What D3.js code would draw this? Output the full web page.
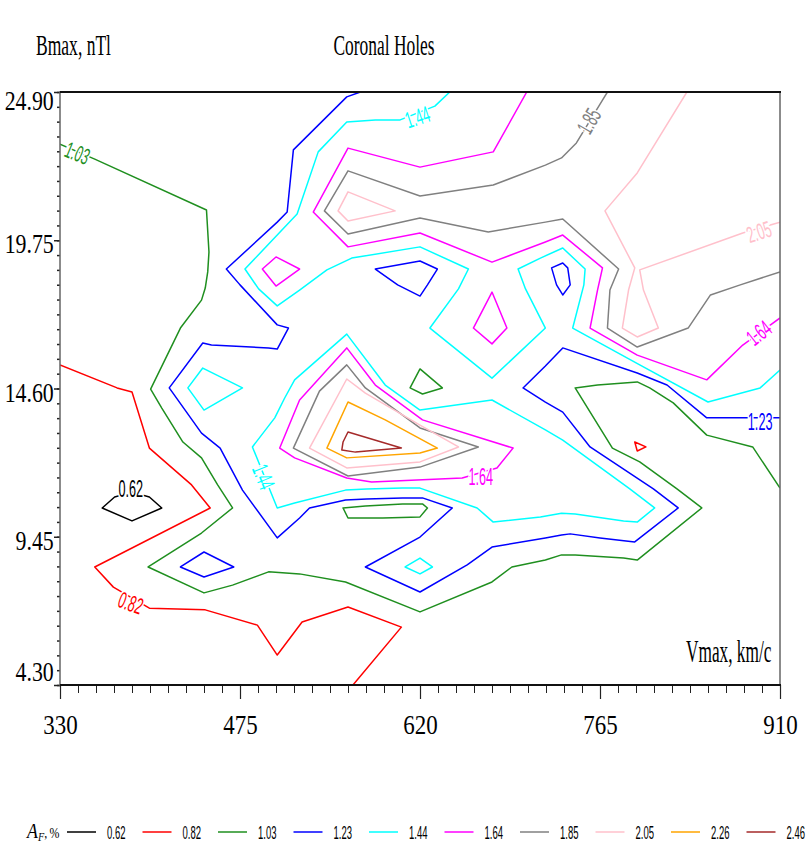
<!DOCTYPE html>
<html lang="en">
<head>
<meta charset="utf-8">
<title>Coronal Holes</title>
<script src="https://d3js.org/d3.v7.min.js"></script>
<style>
  body { margin: 0; background: #fff; }
  svg text { font-family: "Liberation Serif", "Times New Roman", serif; fill: #000; }
  .sans { font-family: "Liberation Sans", Arial, sans-serif !important; }
</style>
</head>
<body>
<svg id="chart"></svg>
<script>
// contour levels A_F, % and their colours
const levels = [0.62, 0.82, 1.03, 1.23, 1.44, 1.64, 1.85, 2.05, 2.26, 2.46];
const levelColors = ["#000000", "#ff0000", "#1f8f1f", "#0000ff", "#00ffff",
                     "#ff00ff", "#808080", "#ffc0cb", "#ffa500", "#a52a2a"];
const xTicks = [330, 475, 620, 765, 910];
const yTicks = [4.30, 9.45, 14.60, 19.75, 24.90];

// contour lines, points are [Vmax km/s, Bmax nT]
const c062 = [[364,10.45],[388,10.00],[412,10.45],[402,10.83],[388,11.00],[374,10.83]];
const c082a = [[330,15.42],[376,14.62],[388,14.48],[402,12.53],[436,11.25],[451,10.45],[388,9.06],[358,8.40],
  [373,7.70],[402,6.97],[447,6.91],[489,6.38],[505,5.34],[525,6.49],[562,7.01],[605,6.31],[566,4.30]];
const c082b = [[793,12.74],[802,12.57],[795,12.43]];
const c103a = [[330,23.09],[358,22.57],[448,20.80],[450,19.34],[449,18.65],[447,18.09],[444,17.67],[427,16.70],
  [403,14.58],[412,13.92],[429,12.74],[444,12.19],[457,11.25],[469,10.45],[444,9.58],[401,8.40],[446,7.50],
  [469,7.77],[498,8.23],[523,8.16],[560,7.88],[620,6.84],[678,7.88],[694,8.40],[721,8.64],[734,8.82],
  [745,8.82],[784,8.71],[795,8.64],[847,10.45],[827,11.11],[797,12.05],[775,12.53],[745,14.62],[763,14.72],
  [795,14.83],[805,14.62],[824,14.10],[851,12.98],[888,12.57],[910,11.14]];
const c103b = [[620,15.28],[638,14.62],[622,14.41],[612,14.62]];
const c103c = [[558,10.45],[576,10.52],[606,10.59],[622,10.59],[626,10.45],[620,10.14],[590,10.10],[562,10.10]];
const c123a = [[572,24.90],[561,24.73],[518,22.89],[513,20.73],[505,20.38],[464,18.75],[475,18.20],[505,16.81],
  [514,16.70],[505,15.97],[498,16.01],[452,16.11],[445,16.18],[418,14.62],[444,13.05],[459,12.53],[477,11.07],
  [505,9.41],[523,10.10],[531,10.45],[560,10.73],[577,10.76],[606,10.80],[622,10.80],[646,10.45],[620,9.44],
  [576,8.40],[620,7.53],[658,8.47],[678,9.09],[721,9.41],[734,9.51],[741,9.55],[765,9.41],[793,9.27],
  [828,10.45],[808,11.11],[757,12.57],[735,13.78],[721,14.13],[703,14.62],[721,15.38],[735,16.01],
  [795,15.14],[819,14.72],[851,13.58],[880,13.58],[910,13.58]];
const c123b = [[584,18.75],[620,19.03],[634,18.75],[626,18.20],[620,17.81],[602,18.20]];
const c123c = [[726,18.79],[735,18.96],[739,18.79],[741,18.20],[735,17.85],[730,18.20]];
const c123d = [[427,8.40],[446,8.92],[470,8.40],[446,8.05]];
const c144a = [[644,24.90],[632,24.41],[604,23.93],[584,23.93],[561,23.86],[538,22.82],[521,20.66],[479,18.75],
  [490,18.06],[505,17.47],[523,18.02],[545,18.72],[565,19.13],[620,19.52],[659,18.75],[651,18.06],[628,16.70],
  [678,14.96],[721,16.70],[705,18.06],[699,18.75],[717,19.13],[735,19.48],[753,18.75],[752,18.20],[743,16.70],
  [797,15.42],[852,14.13],[894,14.62],[910,15.24]];
const c144b = [[445,15.31],[477,14.62],[446,13.85],[433,14.62]];
const c144c = [[519,14.90],[561,16.49],[592,14.72],[620,13.85],[678,14.20],[721,13.16],[735,12.81],[789,11.11],
  [809,10.45],[795,9.96],[784,10.00],[745,10.24],[734,10.27],[717,10.14],[679,9.96],[666,10.45],[620,11.14],
  [606,11.14],[577,11.11],[560,11.07],[519,10.62],[505,10.45],[485,12.57],[503,13.58],[511,14.27]];
const c144d = [[608,8.40],[620,8.71],[630,8.40],[620,8.16]];
const c164a = [[706,24.90],[679,22.82],[620,22.29],[562,22.95],[534,20.73],[562,19.52],[620,20.00],[678,18.99],
  [721,19.69],[735,19.93],[767,18.79],[763,18.02],[757,16.70],[795,15.76],[851,14.90],[880,16.11],[910,17.05]];
const c164b = [[504,19.17],[523,18.75],[504,18.16],[493,18.75]];
const c164c = [[678,17.95],[690,16.70],[678,16.15],[663,16.70]];
const c164d = [[561,16.01],[584,14.72],[622,13.51],[695,12.53],[682,11.84],[654,11.49],[581,11.35],[561,11.49],
  [519,12.19],[507,12.53],[523,14.20]];
const c185a = [[771,24.90],[767,24.62],[746,23.13],[734,22.61],[721,22.36],[679,21.67],[620,21.29],[562,22.16],
  [543,20.77],[562,19.97],[620,20.52],[675,20.04],[721,20.38],[735,20.49],[780,18.75],[773,18.02],[771,16.70],
  [795,16.04],[836,16.70],[854,17.85],[878,18.20],[910,18.65]];
const c185b = [[561,15.42],[576,14.62],[620,13.23],[667,12.57],[620,11.87],[562,11.56],[518,12.53],[539,14.51]];
const c205a = [[562,21.43],[600,20.77],[562,20.42],[554,20.77]];
const c205b = [[835,24.90],[795,22.09],[769,20.77],[793,18.79],[788,18.02],[783,16.70],[795,16.39],[812,16.70],
  [800,18.02],[797,18.72],[880,20.00],[910,20.38]];
const c205c = [[561,14.93],[576,14.44],[620,13.33],[651,12.57],[620,12.05],[561,11.84],[531,12.53]];
const c226 = [[562,14.13],[592,13.51],[634,12.53],[620,12.36],[561,12.19],[545,12.53]];
const c246 = [[562,13.09],[605,12.53],[568,12.39],[557,12.46],[558,12.74]];

const contours = [
  {level: 0.62, pts: c062, closed: true},
  {level: 0.82, pts: c082a, closed: false},
  {level: 0.82, pts: c082b, closed: true},
  {level: 1.03, pts: c103a, closed: false},
  {level: 1.03, pts: c103b, closed: true},
  {level: 1.03, pts: c103c, closed: true},
  {level: 1.23, pts: c123a, closed: false},
  {level: 1.23, pts: c123b, closed: true},
  {level: 1.23, pts: c123c, closed: true},
  {level: 1.23, pts: c123d, closed: true},
  {level: 1.44, pts: c144a, closed: false},
  {level: 1.44, pts: c144b, closed: true},
  {level: 1.44, pts: c144c, closed: true},
  {level: 1.44, pts: c144d, closed: true},
  {level: 1.64, pts: c164a, closed: false},
  {level: 1.64, pts: c164b, closed: true},
  {level: 1.64, pts: c164c, closed: true},
  {level: 1.64, pts: c164d, closed: true},
  {level: 1.85, pts: c185a, closed: false},
  {level: 1.85, pts: c185b, closed: true},
  {level: 2.05, pts: c205a, closed: true},
  {level: 2.05, pts: c205b, closed: false},
  {level: 2.05, pts: c205c, closed: true},
  {level: 2.26, pts: c226, closed: true},
  {level: 2.46, pts: c246, closed: true}
];

// inline labels on the contour lines [level, Vmax, Bmax, angle]
const contourLabels = [
  [0.62, 387, 11.11, 0], [0.82, 387, 7.15, 20], [1.03, 344, 22.78, 22],
  [1.23, 894, 13.44, 0], [1.44, 618, 24.03, -18], [1.44, 494, 11.53, 68],
  [1.64, 893, 16.53, -38], [1.64, 669, 11.53, 0], [1.85, 756, 23.89, -60],
  [2.05, 893, 20.04, -18]
];

const width = 808, height = 863;
const plot = {left: 60, right: 780, top: 92, bottom: 685};

const svg = d3.select("#chart").attr("width", width).attr("height", height);

const x = d3.scaleLinear().domain([330, 910]).range([plot.left, plot.right]);
const y = d3.scaleLinear().domain([4.30, 24.90]).range([plot.bottom, plot.top]);
const color = d3.scaleOrdinal().domain(levels).range(levelColors);

svg.append("clipPath").attr("id", "clip")
  .append("rect")
  .attr("x", plot.left).attr("y", plot.top)
  .attr("width", plot.right - plot.left).attr("height", plot.bottom - plot.top);

// contour lines
let lineOpen = d3.line().x(d => x(d[0])).y(d => y(d[1]));
let lineClosed = d3.line().x(d => x(d[0])).y(d => y(d[1])).curve(d3.curveLinearClosed);

svg.append("g").attr("clip-path", "url(#clip)")
  .selectAll("path")
  .data(contours)
  .join("path")
    .attr("d", d => d.closed ? lineClosed(d.pts) : lineOpen(d.pts))
    .attr("fill", "none")
    .attr("stroke", d => color(d.level))
    .attr("stroke-width", 1.5)
    .attr("stroke-linejoin", "round");

// labels along the lines
svg.append("g")
  .selectAll("text")
  .data(contourLabels)
  .join("text")
    .attr("class", "sans")
    .attr("transform", d => `translate(${x(d[1])},${y(d[2])}) rotate(${d[3]}) scale(0.55,1)`)
    .attr("text-anchor", "middle")
    .attr("dominant-baseline", "central")
    .attr("font-size", 23)
    .attr("stroke", "#fff")
    .attr("stroke-width", 5)
    .attr("paint-order", "stroke")
    .style("fill", d => color(d[0]))
    .text(d => d[0].toFixed(2));

// axes
let minorX = d3.range(0, 41).map(i => 330 + i * 14.5);
let minorY = d3.range(0, 41).map(i => 4.30 + i * 0.515);

svg.append("g")
  .attr("transform", `translate(0,${plot.bottom})`)
  .call(d3.axisBottom(x).tickValues(minorX).tickSize(8).tickFormat(""))
  .call(g => g.select(".domain").remove())
  .selectAll("line").attr("stroke", "#222").attr("stroke-width", 1);

let xAxis = svg.append("g")
  .attr("transform", `translate(0,${plot.bottom})`)
  .call(d3.axisBottom(x).tickValues(xTicks).tickSize(14).tickPadding(10).tickFormat(d3.format("d")));
xAxis.select(".domain").remove();
xAxis.selectAll("line").attr("stroke", "#222").attr("stroke-width", 1.2);
xAxis.selectAll("text")
  .attr("font-family", "Liberation Serif").attr("font-size", 28)
  .attr("transform", "scale(0.82,1)")
  .attr("dy", "0.9em");

svg.append("g")
  .attr("transform", `translate(${plot.left},0)`)
  .call(d3.axisLeft(y).tickValues(minorY).tickSize(3).tickFormat(""))
  .call(g => g.select(".domain").remove())
  .selectAll("line").attr("stroke", "#222").attr("stroke-width", 1.5);

let yAxis = svg.append("g")
  .attr("transform", `translate(${plot.left},0)`)
  .call(d3.axisLeft(y).tickValues(yTicks).tickSize(6).tickPadding(2).tickFormat(d3.format(".2f")));
yAxis.select(".domain").remove();
yAxis.selectAll("line").attr("stroke", "#222").attr("stroke-width", 1.5);
yAxis.selectAll("text")
  .attr("font-family", "Liberation Serif").attr("font-size", 28)
  .attr("transform", "scale(0.78,1)")
  .attr("dy", (d, i) => i === 0 ? "-0.15em" : i === yTicks.length - 1 ? "0.62em" : "0.45em");

// frame
svg.append("rect")
  .attr("x", plot.left).attr("y", plot.top)
  .attr("width", plot.right - plot.left).attr("height", plot.bottom - plot.top)
  .attr("fill", "none").attr("stroke", "#666").attr("stroke-width", 1.5);
svg.append("line").attr("x1", plot.left).attr("x2", plot.right + 1)
  .attr("y1", plot.top).attr("y2", plot.top).attr("stroke", "#111").attr("stroke-width", 2);
svg.append("line").attr("x1", plot.left).attr("x2", plot.right + 1)
  .attr("y1", plot.bottom).attr("y2", plot.bottom).attr("stroke", "#111").attr("stroke-width", 2);

// titles
svg.append("text").attr("x", 384).attr("y", 55).attr("text-anchor", "middle")
  .attr("font-size", 30).attr("textLength", 101).attr("lengthAdjust", "spacingAndGlyphs")
  .text("Coronal Holes");
svg.append("text").attr("x", 36).attr("y", 55)
  .attr("font-size", 30).attr("textLength", 75).attr("lengthAdjust", "spacingAndGlyphs")
  .text("Bmax, nTl");
svg.append("text")
  .attr("transform", "translate(686,662) scale(0.54,1)")
  .attr("font-size", 32)
  .text("Vmax, km/c");

// legend
let legend = svg.append("g").attr("transform", "translate(0,832)");
let af = legend.append("text").attr("transform", "translate(27,6) scale(0.85,1)").attr("font-size", 21);
af.append("tspan").attr("font-style", "italic").text("A");
af.append("tspan").attr("font-style", "italic").attr("font-size", 12).attr("dy", 3).text("F");
af.append("tspan").attr("font-size", 14).attr("dy", -3).text(",\u2009%");

let item = legend.selectAll("g.item")
  .data(levels)
  .join("g")
    .attr("class", "item")
    .attr("transform", (d, i) => `translate(${67 + i * 75.5},0)`);
item.append("line").attr("x1", 0).attr("x2", 29)
  .attr("stroke", d => color(d)).attr("stroke-width", 1.5);
item.append("text")
  .attr("class", "sans")
  .attr("transform", "translate(40,7) scale(0.5,1)")
  .attr("font-size", 19)
  .text(d => d.toFixed(2));
</script>
</body>
</html>
